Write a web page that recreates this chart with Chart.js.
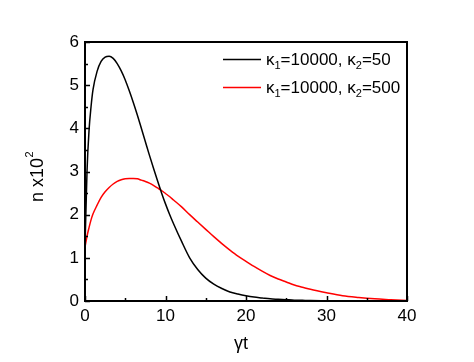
<!DOCTYPE html>
<html>
<head>
<meta charset="utf-8">
<script src="https://cdn.jsdelivr.net/npm/chart.js@4/dist/chart.umd.min.js"></script>
<style>
html,body{margin:0;padding:0;background:#fff;}
canvas{display:block;}
</style>
</head>
<body>
<canvas id="c" width="474" height="362"></canvas>
<script>
// ---- data ----
const xValues = [0,0.25,0.5,0.75,1,1.5,2,2.5,3,3.5,4,4.5,5,5.5,6,6.5,7,7.5,8,8.5,9,9.5,10,10.5,11,12,13,14,15,16,17,18,19,20,21,22,23,24,25,26,27,28,30,32,34,36,38,40];
const seriesK50 = [1.25,3.0,3.95,4.5,4.9,5.32,5.55,5.65,5.67,5.62,5.5,5.33,5.12,4.87,4.6,4.31,4.0,3.69,3.38,3.08,2.79,2.51,2.25,2.01,1.79,1.38,1.0,0.73,0.53,0.39,0.29,0.21,0.16,0.12,0.09,0.07,0.05,0.04,0.03,0.02,0.015,0.01,0.005,0,0,0,0,0];
const seriesK500 = [1.25,1.5,1.7,1.88,2.02,2.22,2.4,2.53,2.63,2.71,2.77,2.81,2.83,2.84,2.84,2.83,2.8,2.77,2.73,2.68,2.62,2.56,2.49,2.42,2.34,2.18,2.0,1.83,1.66,1.49,1.33,1.18,1.04,0.92,0.8,0.69,0.59,0.51,0.44,0.37,0.32,0.27,0.19,0.12,0.08,0.05,0.03,0.01];
const seriesLabels = [["κ","1","=10000, κ","2","=50"],["κ","1","=10000, κ","2","=500"]];
const seriesColors = ["#000000","#ff0000"];
const xTitle = "γt";
const yTitleMain = "n x10";
const yTitleSup = "2";
const xTicks = [0,10,20,30,40];
const yTicks = [0,1,2,3,4,5,6];

const FONT = "'Liberation Sans', Arial, sans-serif";

const framePlugin = {
  id: 'frame',
  afterDraw(chart) {
    const ctx = chart.ctx;
    const a = chart.chartArea;
    const xs = chart.scales.x, ys = chart.scales.y;
    ctx.save();
    ctx.strokeStyle = '#000';
    ctx.lineWidth = 2;
    ctx.strokeRect(a.left, a.top, a.right - a.left, a.bottom - a.top);
    ctx.lineWidth = 1.5;
    ctx.beginPath();
    // x ticks (inward)
    for (let v = 0; v <= 40; v += 5) {
      const px = Math.round(xs.getPixelForValue(v)) + 0.5;
      const len = (v % 10 === 0) ? 5 : 3;
      ctx.moveTo(px, a.bottom);
      ctx.lineTo(px, a.bottom - len);
    }
    // y ticks (inward)
    for (let v = 0; v <= 6.001; v += 0.5) {
      const py = Math.round(ys.getPixelForValue(v)) + 0.5;
      const len = (Math.abs(v - Math.round(v)) < 1e-6) ? 5 : 3;
      ctx.moveTo(a.left, py);
      ctx.lineTo(a.left + len, py);
    }
    ctx.stroke();

    // axis titles
    ctx.fillStyle = '#000';
    ctx.font = '18px ' + FONT;
    ctx.textAlign = 'center';
    ctx.textBaseline = 'middle';
    ctx.fillText(xTitle, 241, 344);
    ctx.save();
    ctx.translate(37, 177);
    ctx.rotate(-Math.PI / 2);
    ctx.font = '18px ' + FONT;
    const wMain = ctx.measureText(yTitleMain).width;
    ctx.font = '11px ' + FONT;
    const wSup = ctx.measureText(yTitleSup).width;
    const x0 = -(wMain + wSup) / 2;
    ctx.textAlign = 'left';
    ctx.textBaseline = 'alphabetic';
    ctx.font = '18px ' + FONT;
    ctx.fillText(yTitleMain, x0, 6);
    ctx.font = '11px ' + FONT;
    ctx.fillText(yTitleSup, x0 + wMain + 0.5, -4);
    ctx.restore();

    // legend with subscripts
    const rows = [59, 87];
    rows.forEach((y, i) => {
      ctx.strokeStyle = seriesColors[i];
      ctx.lineWidth = 1.5;
      ctx.beginPath();
      ctx.moveTo(223, y + 0.5);
      ctx.lineTo(261, y + 0.5);
      ctx.stroke();
      let x = 266;
      ctx.textAlign = 'left';
      ctx.textBaseline = 'alphabetic';
      seriesLabels[i].forEach((part, k) => {
        const sub = (k % 2 === 1);
        ctx.font = (sub ? '11px ' : '17px ') + FONT;
        ctx.fillText(part, x, y + 6 + (sub ? 4 : 0));
        x += ctx.measureText(part).width;
      });
    });
    ctx.restore();
  }
};

new Chart(document.getElementById('c'), {
  type: 'line',
  data: {
    datasets: [
      { data: xValues.map((x, i) => ({x, y: seriesK50[i]})), borderColor: seriesColors[0], borderWidth: 1.5, pointRadius: 0, cubicInterpolationMode: 'monotone', fill: false },
      { data: xValues.map((x, i) => ({x, y: seriesK500[i]})), borderColor: seriesColors[1], borderWidth: 1.5, pointRadius: 0, cubicInterpolationMode: 'monotone', fill: false }
    ]
  },
  options: {
    responsive: false,
    animation: false,
    events: [],
    layout: { padding: { top: 42, right: 67, left: 0, bottom: 0 } },
    plugins: { legend: { display: false }, tooltip: { enabled: false } },
    scales: {
      x: {
        type: 'linear', min: 0, max: 40,
        afterFit(s) { s.height = 61; },
        afterBuildTicks(s) { s.ticks = xTicks.map(v => ({value: v})); },
        grid: { display: false, drawTicks: false },
        border: { display: false },
        ticks: { color: '#000', font: { family: FONT, size: 17 }, padding: 5, maxRotation: 0 }
      },
      y: {
        type: 'linear', min: 0, max: 6,
        afterFit(s) { s.width = 85; },
        afterBuildTicks(s) { s.ticks = yTicks.map(v => ({value: v})); },
        grid: { display: false, drawTicks: false },
        border: { display: false },
        ticks: { color: '#000', font: { family: FONT, size: 17 }, padding: 6 }
      }
    }
  },
  plugins: [framePlugin]
});
</script>
</body>
</html>
